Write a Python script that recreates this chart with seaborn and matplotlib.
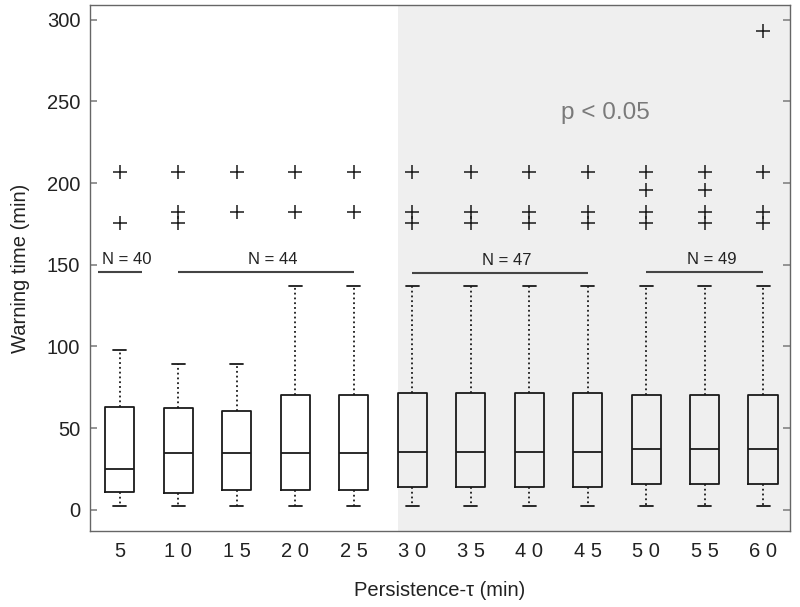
import matplotlib
matplotlib.use("Agg")
import matplotlib.pyplot as plt
import seaborn as sns
import pandas as pd

# ---- data ----
tau_labels = ["5", "1 0", "1 5", "2 0", "2 5", "3 0", "3 5", "4 0", "4 5", "5 0", "5 5", "6 0"]
whisker_low = [2, 2, 2, 2, 2, 2, 2, 2, 2, 2, 2, 2]
q1 = [10.8, 10.2, 12.4, 12.4, 12.4, 13.9, 13.9, 13.9, 13.9, 15.5, 15.5, 15.5]
medians = [25.0, 34.6, 34.6, 34.6, 34.6, 35.2, 35.2, 35.2, 35.2, 37.3, 37.3, 37.3]
q3 = [63.1, 62.1, 60.5, 70.5, 70.5, 71.3, 71.3, 71.3, 71.3, 70.3, 70.3, 70.3]
whisker_high = [97.8, 89.4, 89.4, 137, 137, 137, 137, 137, 137, 137, 137, 137]
outliers = [
    [207, 175.5],
    [207, 182, 175.5],
    [207, 182],
    [207, 182],
    [207, 182],
    [207, 182.3, 175.5],
    [207, 182.3, 175.5],
    [207, 182.3, 175.5],
    [207, 182.3, 175.5],
    [207, 195.7, 182.3, 175.5],
    [207, 195.7, 182.3, 175.5],
    [293, 207, 182.3, 175.5],
]
group_labels = ["N = 40", "N = 44", "N = 47", "N = 49"]
group_start = [-0.37, 1, 5, 9]
group_end = [0.38, 4, 8, 11]
group_level = [145.5, 145.5, 145, 145.5]
sig_text = "p < 0.05"

# ---- long-form tables ----
box_rows = []
for lab, a, b, c, d, e in zip(tau_labels, whisker_low, q1, medians, q3, whisker_high):
    for v in (a, b, c, d, e):
        box_rows.append({"tau": lab, "value": v})
box_df = pd.DataFrame(box_rows)
out_rows = [{"tau": lab, "value": v} for lab, vals in zip(tau_labels, outliers) for v in vals]
out_df = pd.DataFrame(out_rows)

sns.set_theme(style="white")
plt.rcParams["font.family"] = ["Liberation Sans", "DejaVu Sans"]

fig = plt.figure(figsize=(8, 6.07), dpi=100)
ax = fig.add_axes([0.1125, 0.1252, 0.875, 0.8666])

ax.axvspan(4.75, 12, color="#efefef", zorder=0, lw=0)

sns.boxplot(data=box_df, x="tau", y="value", order=tau_labels, whis=(0, 100),
            width=0.5, fill=False, color="#1a1a1a", linewidth=1.3, showfliers=False,
            whiskerprops={"linestyle": ":"}, capwidths=0.22, ax=ax)
sns.stripplot(data=out_df, x="tau", y="value", order=tau_labels, jitter=False,
              marker="+", size=10, color="#1a1a1a", linewidth=1.1, ax=ax)

for lab, s, e, lv in zip(group_labels, group_start, group_end, group_level):
    ax.plot([s, e], [lv, lv], color="#444444", lw=1.5, solid_capstyle="butt")
    ax.text((s + e) / 2 + 0.12, lv + 3, lab, ha="center", va="bottom",
            fontsize=12, color="#222222")

ax.text(8.3, 243, sig_text, ha="center", va="center", fontsize=17.5, color="#7a7a7a")

ax.set_xlim(-0.51, 11.46)
ax.set_ylim(-13, 309)
ax.set_yticks([0, 50, 100, 150, 200, 250, 300])
ax.set_xlabel("Persistence-\u03c4 (min)", fontsize=14.5, color="#222222", labelpad=14)
ax.set_ylabel("Warning time (min)", fontsize=14.5, color="#222222", labelpad=12)
ax.tick_params(axis="y", direction="in", length=5, color="#888888", labelsize=14.5,
               labelcolor="#222222", left=True, right=True, pad=7)
ax.tick_params(axis="x", length=0, labelsize=14.5, labelcolor="#222222", pad=8)
for sp in ax.spines.values():
    sp.set_color("#666666")
    sp.set_linewidth(1.0)

fig.savefig("out.png", dpi=100)
